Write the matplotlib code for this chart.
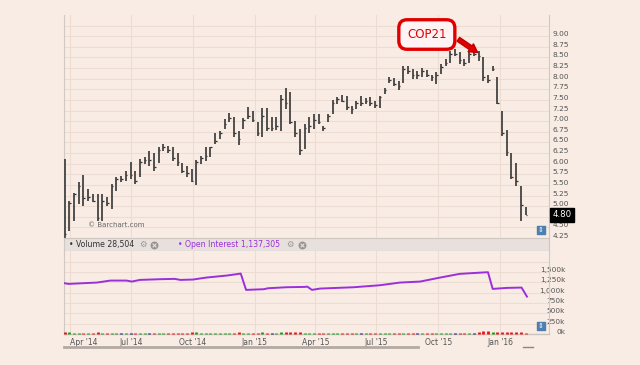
import matplotlib
matplotlib.use("Agg")
import matplotlib.pyplot as plt
import matplotlib.transforms as mtransforms
from matplotlib.lines import Line2D
import numpy as np
import pandas as pd

# weekly price bars (high / low / close), first bar is the clipped one on the left edge
highs = [6.10,
         5.13, 5.32, 5.56, 5.74, 5.40, 5.28, 5.28, 5.28, 5.21, 5.53,
         5.68, 5.72, 5.83, 6.05, 5.82, 6.11, 6.15, 6.29, 6.26, 6.38,
         6.46, 6.42, 6.38, 6.26, 6.01, 5.95, 5.87, 6.09, 6.19, 6.38,
         6.40, 6.71, 6.77, 7.05, 7.20, 7.10, 6.77, 7.07, 7.34, 7.24,
         6.97, 7.30, 7.31, 7.09, 7.09, 7.61, 7.78, 7.68, 7.01, 6.81,
         6.93, 7.09, 7.18, 7.17, 6.89, 7.17, 7.49, 7.56, 7.62, 7.60,
         7.36, 7.48, 7.60, 7.54, 7.56, 7.48, 7.60, 7.78, 8.04, 8.01,
         7.95, 8.30, 8.30, 8.22, 8.18, 8.24, 8.20, 8.09, 8.15, 8.34,
         8.46, 8.65, 8.69, 8.62, 8.46, 8.62, 8.65, 8.65, 8.51, 8.09,
         8.30, 8.04, 7.24, 6.79, 6.26, 6.01, 5.48, 4.99]
lows = [4.20,
        4.42, 4.66, 5.05, 5.01, 5.13, 5.09, 4.66, 4.66, 5.01, 4.93,
        5.36, 5.56, 5.60, 5.64, 5.52, 5.68, 5.99, 5.95, 5.83, 6.01,
        6.30, 6.26, 6.07, 5.95, 5.77, 5.68, 5.56, 5.50, 5.99, 6.07,
        6.15, 6.46, 6.58, 6.81, 6.97, 6.62, 6.44, 6.81, 7.05, 6.97,
        6.66, 6.62, 6.77, 6.77, 6.79, 6.77, 7.28, 6.93, 6.62, 6.21,
        6.34, 6.73, 6.81, 6.93, 6.77, 6.99, 7.17, 7.40, 7.44, 7.26,
        7.17, 7.28, 7.36, 7.40, 7.36, 7.32, 7.32, 7.64, 7.91, 7.83,
        7.73, 7.89, 8.11, 7.99, 7.99, 8.03, 8.03, 7.95, 7.87, 8.11,
        8.30, 8.38, 8.54, 8.34, 8.30, 8.38, 8.54, 8.42, 7.95, 7.91,
        8.18, 7.40, 6.66, 6.19, 5.64, 5.48, 4.64, 4.78]
closes = [4.35,
          5.08, 5.28, 5.48, 5.18, 5.21, 5.13, 4.73, 5.13, 5.08, 5.48,
          5.63, 5.63, 5.73, 5.73, 5.58, 6.03, 6.08, 6.08, 5.93, 6.33,
          6.38, 6.33, 6.13, 6.03, 5.83, 5.78, 5.58, 6.03, 6.13, 6.18,
          6.38, 6.53, 6.73, 6.93, 7.08, 6.73, 6.58, 7.03, 7.13, 7.03,
          6.73, 7.13, 6.83, 6.83, 6.88, 7.53, 7.43, 6.98, 6.73, 6.33,
          6.83, 6.88, 7.03, 6.98, 6.83, 7.13, 7.43, 7.53, 7.48, 7.33,
          7.28, 7.43, 7.43, 7.48, 7.43, 7.38, 7.58, 7.73, 7.98, 7.88,
          7.83, 8.23, 8.18, 8.08, 8.08, 8.18, 8.08, 8.03, 8.08, 8.28,
          8.38, 8.58, 8.58, 8.43, 8.38, 8.58, 8.58, 8.53, 8.03, 7.98,
          8.23, 7.43, 6.73, 6.28, 5.68, 5.58, 5.03, 4.80]
volume_k = [60,
            45, 30, 25, 35, 28, 22, 40, 33, 26, 30,
            24, 29, 31, 22, 27, 25, 30, 28, 33, 26,
            24, 29, 31, 35, 28, 30, 38, 42, 26, 24,
            30, 33, 27, 25, 31, 36, 40, 28, 30, 26,
            34, 37, 29, 27, 25, 44, 39, 41, 46, 52,
            33, 29, 30, 27, 25, 28, 32, 26, 24, 30,
            27, 25, 29, 23, 26, 28, 31, 34, 36, 27,
            29, 35, 26, 28, 24, 27, 25, 30, 33, 29,
            27, 34, 30, 32, 28, 26, 31, 45, 80, 70,
            40, 55, 60, 48, 52, 45, 50, 29]
bar_dates = pd.date_range("2014-03-24", periods=len(highs), freq="7D")

# open interest line (thousands)
oi_dates = pd.to_datetime([
    "2014-03-23", "2014-03-30", "2014-05-11", "2014-05-31", "2014-06-24",
    "2014-07-02", "2014-07-14", "2014-08-13", "2014-09-04", "2014-09-12",
    "2014-10-01", "2014-10-21", "2014-11-20", "2014-12-05", "2014-12-11",
    "2014-12-19", "2015-01-14", "2015-01-21", "2015-02-17", "2015-03-17",
    "2015-03-20", "2015-03-27", "2015-04-08", "2015-05-28", "2015-07-06",
    "2015-08-05", "2015-09-04", "2015-10-04", "2015-11-02", "2015-12-14",
    "2015-12-21", "2016-01-11", "2016-02-02", "2016-02-10"])
oi_k = [1227, 1210, 1242, 1290, 1290,
        1266, 1306, 1323, 1331, 1306,
        1315, 1363, 1411, 1444, 1460,
        1065, 1081, 1105, 1129, 1137,
        1145, 1065, 1097, 1129, 1177,
        1242, 1266, 1363, 1452, 1492,
        1089, 1113, 1121, 903]

quarter_ticks = pd.to_datetime(["2014-04-01", "2014-07-01", "2014-10-01", "2015-01-01",
                                "2015-04-01", "2015-07-01", "2015-10-01", "2016-01-01"])
quarter_labels = ["Apr '14", "Jul '14", "Oct '14", "Jan '15",
                  "Apr '15", "Jul '15", "Oct '15", "Jan '16"]
price_ticks = np.arange(4.25, 9.01, 0.25)
oi_ticks = [0, 250, 500, 750, 1000, 1250, 1500]

bg = "#f8ece4"
grid_c = "#eddcd2"
edge_c = "#d3c9c3"
text_c = "#555555"
purple = "#9b2fdc"
xlim = (pd.Timestamp("2014-03-23"), pd.Timestamp("2016-03-14"))

fig = plt.figure(figsize=(6.4, 3.65), dpi=100, facecolor=bg)

# ---- price panel
ax = fig.add_axes([0.1, 0.348, 0.758, 0.611], facecolor=bg)
ax.set_xlim(*xlim)
ax.set_ylim(4.25, 9.5)
for y in list(price_ticks) + [9.25]:
    ax.axhline(y, color=grid_c, lw=0.8, zorder=0)
for d in quarter_ticks:
    ax.axvline(d, color=grid_c, lw=0.8, zorder=0)
ax.vlines(bar_dates, lows, highs, color="#444444", lw=1.3, zorder=3)
ax.hlines(closes, bar_dates, bar_dates + pd.Timedelta(days=2.5), color="#333333", lw=0.9, zorder=3)
ax.set_xticks([])
ax.yaxis.tick_right()
ax.set_yticks(price_ticks)
# the 4.75 label sits under the last-price box
ax.set_yticklabels(["" if abs(v - 4.75) < 0.01 else f"{v:.2f}" for v in price_ticks])
ax.tick_params(axis="y", length=0, pad=2.5, labelsize=5.3, labelcolor=text_c)
for lbl in ax.get_yticklabels():
    lbl.set_verticalalignment("baseline")
for s in ["top", "bottom"]:
    ax.spines[s].set_visible(False)
ax.spines["left"].set_color(edge_c)
ax.spines["right"].set_color(edge_c)

ax.text(0.05, 0.06, "\u00a9 Barchart.com", transform=ax.transAxes, fontsize=5,
        color="#666666", va="center")

# last price box
trans = mtransforms.blended_transform_factory(ax.transAxes, ax.transData)
ax.text(1.007, closes[-1], f"{closes[-1]:.2f}", transform=trans, fontsize=6.2, color="white",
        va="center", ha="left", clip_on=False,
        bbox=dict(boxstyle="square,pad=0.3", fc="black", ec="black"))

# scroll button
ax.scatter([0.983], [0.036], transform=ax.transAxes, marker="s", s=40, color="#4f7fb0", zorder=5)
ax.text(0.983, 0.036, "\u21d5", transform=ax.transAxes, fontsize=5, color="white",
        ha="center", va="center", zorder=6)

# COP21 callout
ax.annotate("COP21", xy=(pd.Timestamp("2015-12-02"), 8.58),
            xytext=(pd.Timestamp("2015-09-14"), 9.04),
            fontsize=8.5, color="#e00000", ha="center", va="center", zorder=7,
            bbox=dict(boxstyle="round,pad=0.7", fc="#fff3f3", ec="#e00000", lw=2.4),
            arrowprops=dict(arrowstyle="simple,head_length=0.7,head_width=0.8,tail_width=0.38",
                            fc="#e00000", ec="#c00000", relpos=(1.0, 0.75),
                            connectionstyle="arc3,rad=0"))

# ---- legend band
band = fig.add_axes([0.1, 0.312, 0.758, 0.0356], facecolor="#e7e0dc")
band.set_xticks([])
band.set_yticks([])
for s in band.spines.values():
    s.set_color("#cfc7c2")
band.text(0.010, 0.5, "\u2022 Volume 28,504", fontsize=5.6, color="#333333", va="center")
band.text(0.235, 0.5, "\u2022 Open Interest 1,137,305", fontsize=5.6, color=purple, va="center")
for xg, xc in [(0.163, 0.186), (0.466, 0.49)]:
    band.text(xg, 0.5, "\u2699", fontsize=6, color="#9a9490", ha="center", va="center")
    band.scatter([xc], [0.5], marker="o", s=22, color="#9a9490", zorder=3)
    band.scatter([xc], [0.5], marker="x", s=7, color="#e7e0dc", lw=0.8, zorder=4)
band.set_xlim(0, 1)
band.set_ylim(0, 1)

# ---- open interest / volume panel
ax2 = fig.add_axes([0.1, 0.0849, 0.758, 0.227], facecolor=bg)
ax2.set_xlim(*xlim)
ax2.set_ylim(0, 2000)
for y in range(0, 2000, 250):
    ax2.axhline(y, color=grid_c, lw=0.8, zorder=0)
for d in quarter_ticks:
    ax2.axvline(d, color=grid_c, lw=0.8, zorder=0)
vol_colors = ["#e01010"]
for i in range(1, len(closes)):
    if closes[i] > closes[i - 1]:
        vol_colors.append("#12a012")
    elif closes[i] < closes[i - 1]:
        vol_colors.append("#f01010")
    else:
        vol_colors.append("#14146e")
ax2.vlines(bar_dates, 0, volume_k, colors=vol_colors, lw=2.0, zorder=5, clip_on=False)
ax2.plot(oi_dates, oi_k, color=purple, lw=1.4, zorder=3)
ax2.yaxis.tick_right()
ax2.set_yticks(oi_ticks)
ax2.set_yticklabels([f"{v:,}k" for v in oi_ticks])
ax2.tick_params(axis="y", length=0, pad=11.5, labelsize=5.3, labelcolor=text_c)
for lbl in ax2.get_yticklabels():
    lbl.set_horizontalalignment("right")
    lbl.set_verticalalignment("baseline")
ax2.set_xticks(quarter_ticks)
ax2.set_xticklabels(quarter_labels)
ax2.tick_params(axis="x", length=0, pad=3, labelsize=5.5, labelcolor=text_c)
ax2.get_xticklabels()[0].set_horizontalalignment("left")
ax2.spines["top"].set_visible(False)
for s in ["left", "right"]:
    ax2.spines[s].set_color(edge_c)
ax2.spines["bottom"].set_color("#cbc3be")
ax2.spines["bottom"].set_linewidth(1.0)

ax2.scatter([0.983], [0.096], transform=ax2.transAxes, marker="s", s=40, color="#4f7fb0", zorder=6)
ax2.text(0.983, 0.096, "\u21d5", transform=ax2.transAxes, fontsize=5, color="white",
         ha="center", va="center", zorder=7)

# scrollbar under the chart
fig.add_artist(Line2D([64 / 640, 418 / 640], [0.049, 0.049], color="#b3aaa4", lw=2))
fig.add_artist(Line2D([523 / 640, 533 / 640], [0.05, 0.05], color="#8d8680", lw=1))

fig.savefig("out.png", dpi=100, facecolor=bg)
